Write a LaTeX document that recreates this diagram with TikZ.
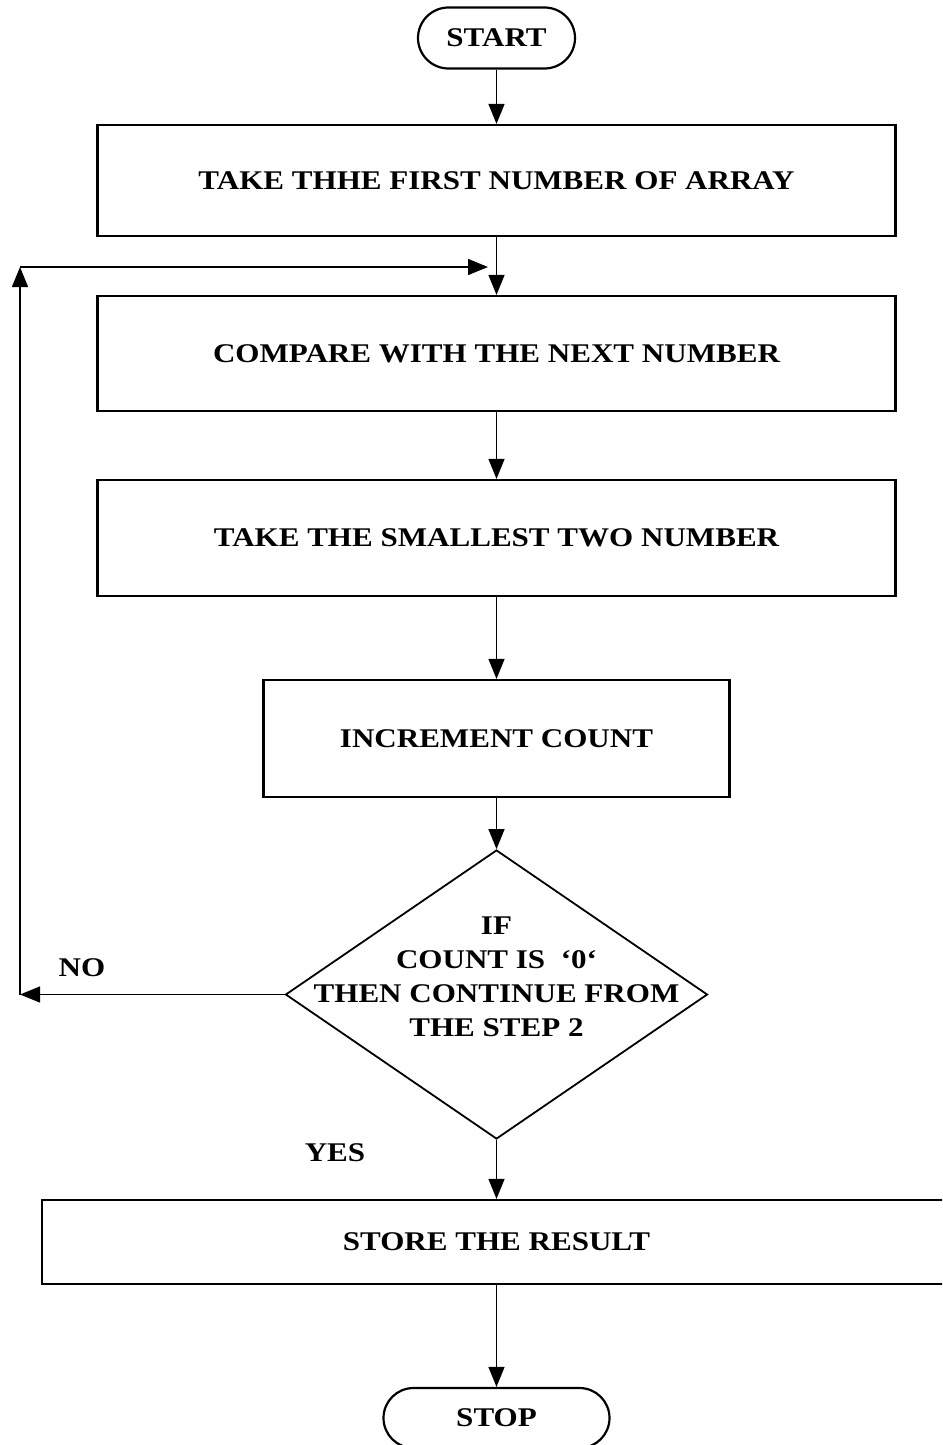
\documentclass[tikz,border=0pt]{standalone}
\usepackage{fontspec}
\setmainfont{Liberation Serif}[FakeStretch=1.15]
\usetikzlibrary{shapes.geometric,shapes.misc,arrows.meta}
\begin{document}
\begin{tikzpicture}[x=1pt,y=-1pt,
  txt/.style={font=\fontsize{27}{34}\selectfont\bfseries, align=center},
  box/.style={draw, line width=2.2pt, inner sep=0pt, txt},
  term/.style={draw, line width=2.2pt, rounded rectangle, inner sep=0pt, txt},
  arr/.style={line width=1.3pt, -{Triangle[length=20pt,width=16pt]}}]
\clip (0,0) rectangle (942,1445);
\fill[white] (0,0) rectangle (942,1445);
\node[term, minimum width=157pt, minimum height=61pt] (start) at (496.5,38) {START};
\node[box, minimum width=798pt, minimum height=111pt] (b1) at (496.5,180.5) {TAKE THHE FIRST NUMBER OF ARRAY};
\node[box, minimum width=798pt, minimum height=115pt] (b2) at (496.5,353.5) {COMPARE WITH THE NEXT NUMBER};
\node[box, minimum width=798pt, minimum height=116pt] (b3) at (496.5,538) {TAKE THE SMALLEST TWO NUMBER};
\node[box, minimum width=466pt, minimum height=117pt] (b4) at (496.5,738.5) {INCREMENT COUNT};
\node[draw, line width=1.8pt, diamond, aspect=1.46, inner sep=0pt, minimum width=422pt, minimum height=289pt] (dec) at (496.5,994.5) {};
\node[txt] (dect) at (496.5,977) {IF\\COUNT IS \ `0`\\THEN CONTINUE FROM\\THE STEP 2};
\node[box, minimum width=909pt, minimum height=84pt] (b5) at (496.5,1242) {STORE THE RESULT};
\node[term, minimum width=226pt, minimum height=60pt] (stop) at (496.5,1418) {STOP};
\node[txt] (no) at (82,968) {NO};
\node[txt] (yes) at (335,1153) {YES};
\coordinate (loopB) at (20,994.5);
\coordinate (loopT) at (20,267);
\coordinate (loopE) at (488,267);
\draw[arr] (start.south) -- (b1.north);
\draw[arr] (b1.south) -- (b2.north);
\draw[arr] (b2.south) -- (b3.north);
\draw[arr] (b3.south) -- (b4.north);
\draw[arr] (b4.south) -- (dec.north);
\draw[arr] (dec.south) -- (b5.north);
\draw[arr] (b5.south) -- (stop.north);
\draw[arr] (dec.west) -- (loopB);
\draw[arr] (loopB) -- (loopT);
\draw[arr] (loopT) -- (loopE);
\end{tikzpicture}
\end{document}
